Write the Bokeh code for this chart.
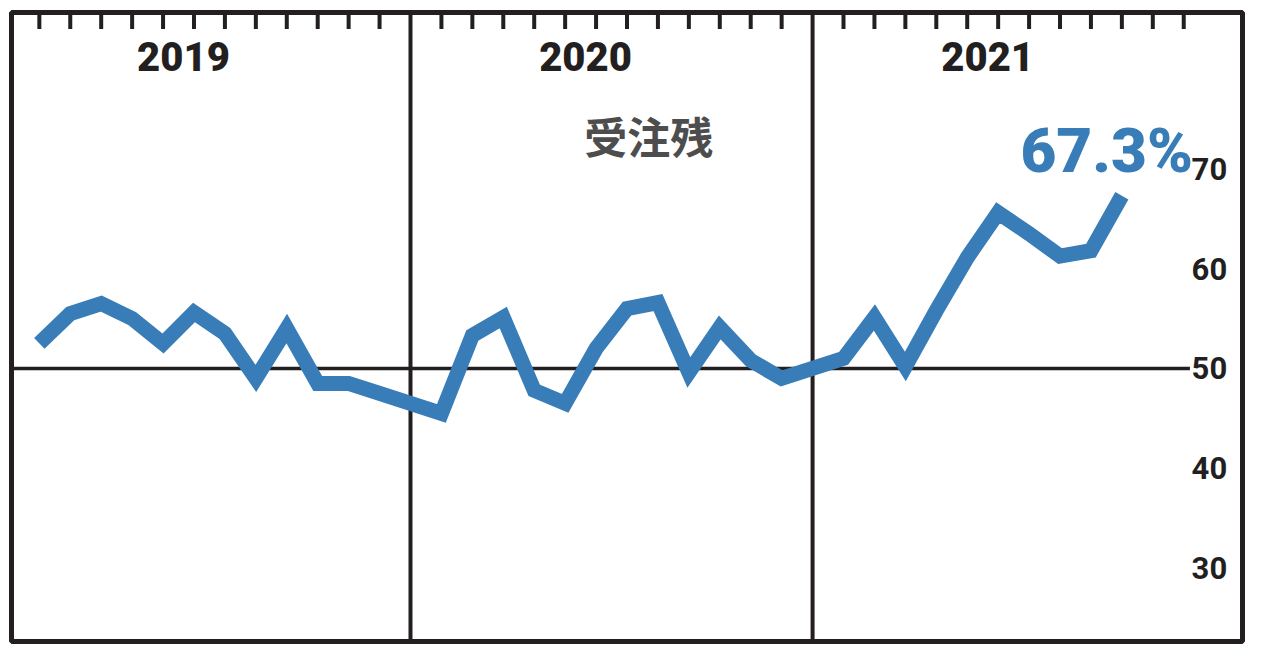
from bokeh.plotting import figure
from bokeh.models import Range1d
from bokeh.core.properties import value
from bokeh.embed import file_html
from bokeh.resources import INLINE

# ---- data ----
years = [2019, 2020, 2021]
months_2019 = [1, 2, 3, 4, 5, 6, 7, 8, 9, 10, 11, 12]
months_2020 = [1, 2, 3, 4, 5, 6, 7, 8, 9, 10, 11, 12]
months_2021 = [1, 2, 3, 4, 5, 6, 7, 8, 9, 10]
values_2019 = [52.5, 55.5, 56.5, 55.0, 52.5, 55.6, 53.5, 49.0, 54.0, 48.5, 48.5, 47.5]
values_2020 = [45.5, 53.3, 55.1, 47.8, 46.5, 52.0, 56.0, 56.6, 49.6, 54.1, 50.8, 49.0]
values_2021 = [51.0, 55.1, 50.2, 55.8, 61.1, 65.6, 63.5, 61.25, 61.8, 67.3]
y_ticks = [30, 40, 50, 60, 70]
reference_value = 50
series_title = "受注残"
last_label = "67.3%"

SLOTS = 13  # each year spans 13 slots: 12 month ticks + divider
INK = "#231f20"
BLUE = "#387db7"
HEAVY = value("Roboto Black")

def xpos(year_idx, month):
    return year_idx * SLOTS + month

xs, ys = [], []
for yi, (ms, vs) in enumerate([(months_2019, values_2019), (months_2020, values_2020), (months_2021, values_2021)]):
    for m, v in zip(ms, vs):
        xs.append(xpos(yi, m))
        ys.append(v)

x_start, x_end = 0.1, 39.9
y_start, y_end = 22.64, 85.66

p = figure(frame_width=1231, frame_height=629,
           min_border_left=11, min_border_top=12, min_border_right=4, min_border_bottom=4,
           x_range=Range1d(x_start, x_end), y_range=Range1d(y_start, y_end),
           output_backend="svg", toolbar_location=None,
           x_axis_location=None, y_axis_location=None)
p.grid.visible = False
p.outline_line_color = INK
p.outline_line_width = 5
p.background_fill_color = "white"
p.border_fill_color = "white"

# year dividers
div_x = [xpos(i, 0) for i in range(1, len(years))]
p.segment(x0=div_x, y0=[y_start] * len(div_x), x1=div_x, y1=[y_end] * len(div_x),
          line_color=INK, line_width=4)

# month ticks along the top edge
tick_x = [xpos(i, m) for i in range(len(years)) for m in range(1, 13)]
p.segment(x0=tick_x, y0=[y_end] * len(tick_x), x1=tick_x, y1=[84.0] * len(tick_x),
          line_color=INK, line_width=4)

# reference line at 50
p.segment(x0=[x_start], y0=[reference_value], x1=[38.2], y1=[reference_value],
          line_color=INK, line_width=3.5)

# main series
p.line(xs, ys, line_color=BLUE, line_width=15, line_join="miter", line_cap="butt")

# year labels
p.text(x=[xpos(i, 5.66) for i in range(len(years))], y=[81.25] * len(years),
       text=[str(y) for y in years], text_font=HEAVY, text_font_style="bold",
       text_font_size="40px", text_color=INK, text_align="center",
       text_baseline="middle")

# series title
p.text(x=[20.7], y=[73.4], text=[series_title],
       text_font=value("Noto Sans CJK JP"), text_font_style="bold",
       text_font_size="43px", text_color="#4d4d4d", text_align="center",
       text_baseline="middle")

# last value label
p.text(x=[38.3], y=[71.83], text=[last_label], text_font=HEAVY,
       text_font_style="bold", text_font_size="62px", text_color=BLUE,
       text_align="right", text_baseline="middle")

# y tick labels on the right
p.text(x=[38.83] * len(y_ticks), y=y_ticks, text=[str(t) for t in y_ticks],
       text_font=value("Roboto"), text_font_style="bold", text_font_size="31px",
       text_color=INK, text_align="center", text_baseline="middle")

open("out.html", "w").write(file_html(p, INLINE))
